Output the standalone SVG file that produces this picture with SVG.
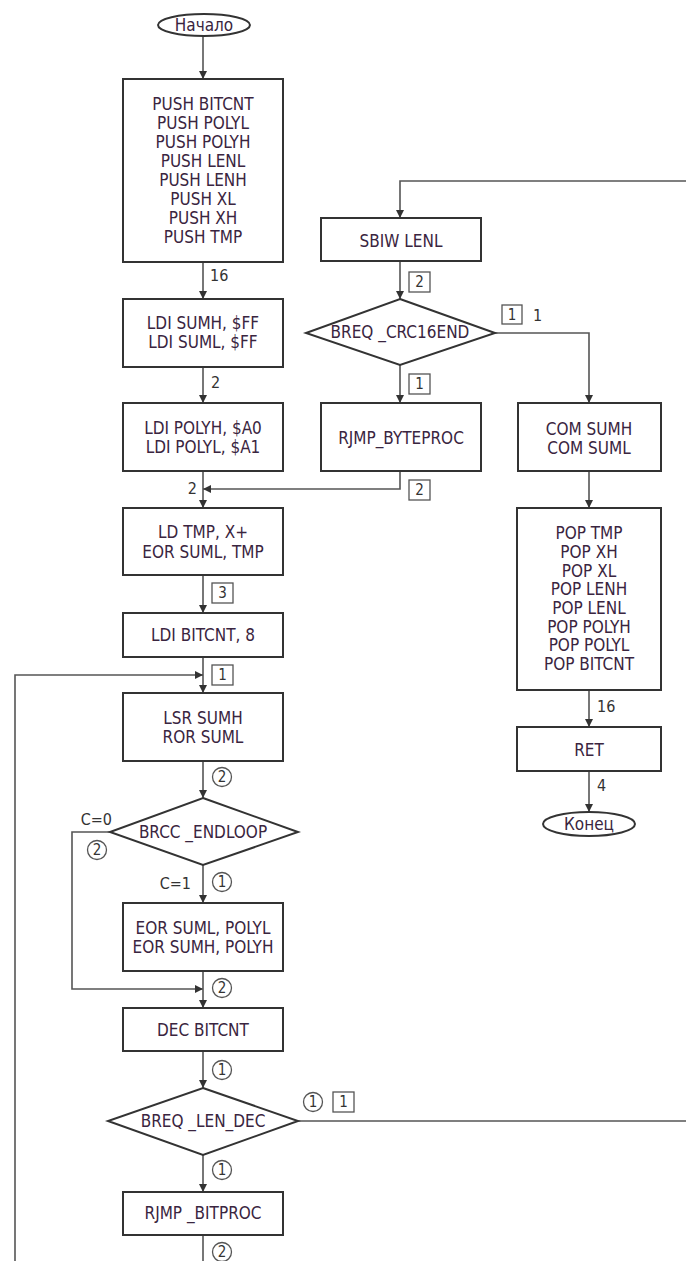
<svg xmlns="http://www.w3.org/2000/svg" width="686" height="1261" viewBox="0 0 686 1261">
<defs>
<marker id="arr" viewBox="0 0 10 10" refX="10" refY="5" markerWidth="8" markerHeight="8" markerUnits="userSpaceOnUse" orient="auto">
<path d="M0,0 L10,5 L0,10 z" fill="#333"/>
</marker>
<style>
.box{fill:#fff;stroke:#333;stroke-width:2}
.t{font-family:"Liberation Sans Narrow","DejaVu Sans Condensed","Liberation Sans",sans-serif;font-size:17px;fill:#3a2540;text-anchor:middle;dominant-baseline:central}
.l{font-family:"Liberation Sans Narrow","DejaVu Sans Condensed","Liberation Sans",sans-serif;font-size:16px;fill:#333;dominant-baseline:central}
.c{fill:none;stroke:#555;stroke-width:1.6}
.ca{fill:none;stroke:#555;stroke-width:1.6;marker-end:url(#arr)}
.lc{fill:#fff;stroke:#555;stroke-width:1.3}
.lt{font-family:"Liberation Sans Narrow","DejaVu Sans Condensed","Liberation Sans",sans-serif;font-size:15px;fill:#333;text-anchor:middle;dominant-baseline:central}
</style>
</defs>
<g id="connectors">
<path class="ca" d="M203,36 V79"/>
<path class="ca" d="M203,262 V299"/>
<path class="ca" d="M203,367 V403"/>
<path class="ca" d="M203,471 V508"/>
<path class="ca" d="M400,471 V489 H203"/>
<path class="ca" d="M203,575 V613"/>
<path class="ca" d="M203,657 V693"/>
<path class="ca" d="M15,1261 V675 H203"/>
<path class="ca" d="M203,761 V798"/>
<path class="ca" d="M203,865 V903"/>
<path class="ca" d="M110,832 H72 V989 H203"/>
<path class="ca" d="M203,971 V1008"/>
<path class="ca" d="M203,1051 V1088"/>
<path class="ca" d="M203,1155 V1192"/>
<path class="c" d="M203,1235 V1261"/>
<path class="c" d="M298,1121 H686"/>
<path class="ca" d="M686,181 H400 V218"/>
<path class="ca" d="M400,261 V299"/>
<path class="ca" d="M400,365 V403"/>
<path class="ca" d="M495,333 H589 V403"/>
<path class="ca" d="M589,471 V508"/>
<path class="ca" d="M589,690 V727"/>
<path class="ca" d="M589,771 V812"/>
</g>
<g id="labels">
<text class="l" x="210" y="275">16</text>
<text class="l" x="211" y="382">2</text>
<text class="l" x="197" y="488" text-anchor="end">2</text>
<rect class="lc" x="212" y="583" width="21" height="20"/><text class="lt" x="222.5" y="593">3</text>
<rect class="lc" x="212" y="665" width="21" height="20"/><text class="lt" x="222.5" y="675">1</text>
<circle class="lc" cx="222" cy="777" r="9.5"/><text class="lt" x="222" y="777">2</text>
<text class="l" x="112" y="819" text-anchor="end">C=0</text>
<circle class="lc" cx="97" cy="850" r="9.5"/><text class="lt" x="97" y="850">2</text>
<text class="l" x="191" y="883" text-anchor="end">C=1</text>
<circle class="lc" cx="222" cy="882" r="9.5"/><text class="lt" x="222" y="882">1</text>
<circle class="lc" cx="222" cy="988" r="9.5"/><text class="lt" x="222" y="988">2</text>
<circle class="lc" cx="222" cy="1070" r="9.5"/><text class="lt" x="222" y="1070">1</text>
<circle class="lc" cx="313" cy="1102" r="9.5"/><text class="lt" x="313" y="1102">1</text>
<rect class="lc" x="333" y="1092" width="21" height="20"/><text class="lt" x="343.5" y="1102">1</text>
<circle class="lc" cx="222" cy="1170" r="9.5"/><text class="lt" x="222" y="1170">1</text>
<circle class="lc" cx="222" cy="1252" r="9.5"/><text class="lt" x="222" y="1252">2</text>
<rect class="lc" x="409" y="272" width="21" height="20"/><text class="lt" x="419.5" y="282">2</text>
<rect class="lc" x="502" y="305" width="20" height="19"/><text class="lt" x="512" y="314.5">1</text>
<text class="l" x="533" y="315">1</text>
<rect class="lc" x="409" y="374" width="21" height="20"/><text class="lt" x="419.5" y="384">1</text>
<rect class="lc" x="409" y="480" width="21" height="20"/><text class="lt" x="419.5" y="490">2</text>
<text class="l" x="597" y="706">16</text>
<text class="l" x="597" y="785">4</text>
</g>
<g id="start"><ellipse class="box" cx="204" cy="25" rx="46" ry="11"/><text class="t" x="204" y="25">Начало</text></g>
<g id="push"><rect class="box" x="123" y="79" width="160" height="183"/>
<text class="t" x="203" y="104">PUSH BITCNT</text><text class="t" x="203" y="123">PUSH POLYL</text><text class="t" x="203" y="142">PUSH POLYH</text><text class="t" x="203" y="161">PUSH LENL</text><text class="t" x="203" y="180">PUSH LENH</text><text class="t" x="203" y="199">PUSH XL</text><text class="t" x="203" y="218">PUSH XH</text><text class="t" x="203" y="237">PUSH TMP</text></g>
<g id="ldisum"><rect class="box" x="123" y="299" width="160" height="68"/><text class="t" x="203" y="323">LDI SUMH, $FF</text><text class="t" x="203" y="342">LDI SUML, $FF</text></g>
<g id="ldipoly"><rect class="box" x="123" y="403" width="160" height="68"/><text class="t" x="203" y="428">LDI POLYH, $A0</text><text class="t" x="203" y="447">LDI POLYL, $A1</text></g>
<g id="ldtmp"><rect class="box" x="123" y="508" width="160" height="67"/><text class="t" x="203" y="532">LD TMP, X+</text><text class="t" x="203" y="552">EOR SUML, TMP</text></g>
<g id="ldibitcnt"><rect class="box" x="123" y="613" width="160" height="44"/><text class="t" x="203" y="635">LDI BITCNT, 8</text></g>
<g id="lsr"><rect class="box" x="123" y="693" width="160" height="68"/><text class="t" x="203" y="718">LSR SUMH</text><text class="t" x="203" y="737">ROR SUML</text></g>
<g id="brcc"><path class="box" d="M203,798 L298,832 L203,865 L110,832 Z"/><text class="t" x="203" y="832">BRCC _ENDLOOP</text></g>
<g id="eor"><rect class="box" x="123" y="903" width="160" height="68"/><text class="t" x="203" y="928">EOR SUML, POLYL</text><text class="t" x="203" y="947">EOR SUMH, POLYH</text></g>
<g id="dec"><rect class="box" x="123" y="1008" width="160" height="43"/><text class="t" x="203" y="1030">DEC BITCNT</text></g>
<g id="breqlen"><path class="box" d="M203,1088 L298,1121 L203,1155 L108,1121 Z"/><text class="t" x="203" y="1121">BREQ _LEN_DEC</text></g>
<g id="rjmpbit"><rect class="box" x="123" y="1192" width="160" height="43"/><text class="t" x="203" y="1213">RJMP _BITPROC</text></g>
<g id="sbiw"><rect class="box" x="321" y="218" width="160" height="43"/><text class="t" x="401" y="241">SBIW LENL</text></g>
<g id="breqcrc"><path class="box" d="M400,299 L495,333 L400,365 L306,333 Z"/><text class="t" x="400" y="332">BREQ _CRC16END</text></g>
<g id="rjmpbyte"><rect class="box" x="321" y="403" width="160" height="68"/><text class="t" x="401" y="438">RJMP_BYTEPROC</text></g>
<g id="com"><rect class="box" x="518" y="403" width="143" height="68"/><text class="t" x="589" y="429">COM SUMH</text><text class="t" x="589" y="448">COM SUML</text></g>
<g id="pop"><rect class="box" x="517" y="508" width="144" height="182"/>
<text class="t" x="589" y="533">POP TMP</text><text class="t" x="589" y="552">POP XH</text><text class="t" x="589" y="571">POP XL</text><text class="t" x="589" y="589">POP LENH</text><text class="t" x="589" y="608">POP LENL</text><text class="t" x="589" y="627">POP POLYH</text><text class="t" x="589" y="645">POP POLYL</text><text class="t" x="589" y="664">POP BITCNT</text></g>
<g id="ret"><rect class="box" x="517" y="727" width="144" height="44"/><text class="t" x="589" y="750">RET</text></g>
<g id="end"><ellipse class="box" cx="589" cy="824" rx="46" ry="12"/><text class="t" x="589" y="824">Конец</text></g>
</svg>
